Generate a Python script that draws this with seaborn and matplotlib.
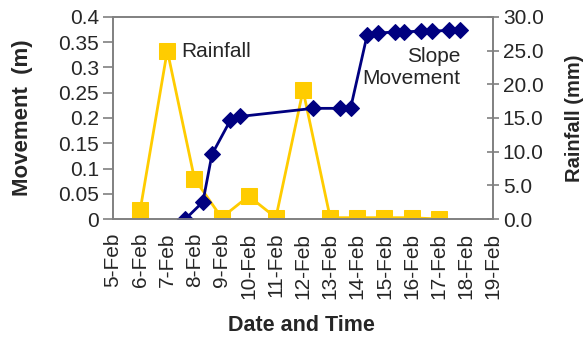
import pandas as pd
import matplotlib
matplotlib.use("Agg")
import matplotlib.pyplot as plt
import seaborn as sns

# --- DATA ---
rain_dates = ["6-Feb", "7-Feb", "8-Feb", "9-Feb", "10-Feb", "11-Feb", "12-Feb",
              "13-Feb", "14-Feb", "15-Feb", "16-Feb", "17-Feb"]
rain_mm = [1.3, 25.0, 6.0, 0.2, 3.4, 0.2, 19.1, 0.2, 0.2, 0.2, 0.2, 0.0]

move_times = ["7-Feb 16:00", "8-Feb 07:30", "8-Feb 15:30", "9-Feb 07:40", "9-Feb 16:30",
              "12-Feb 09:00", "13-Feb 08:30", "13-Feb 18:00", "14-Feb 08:40", "14-Feb 18:00",
              "15-Feb 09:00", "15-Feb 17:00", "16-Feb 08:00", "16-Feb 18:15", "17-Feb 09:00",
              "17-Feb 18:40"]
move_m = [0.0, 0.034, 0.128, 0.195, 0.203, 0.219, 0.219, 0.219, 0.364, 0.368,
          0.370, 0.370, 0.372, 0.372, 0.373, 0.373]

x_ticks = ["5-Feb", "6-Feb", "7-Feb", "8-Feb", "9-Feb", "10-Feb", "11-Feb", "12-Feb",
           "13-Feb", "14-Feb", "15-Feb", "16-Feb", "17-Feb", "18-Feb", "19-Feb"]

YEAR = "2004"
rain = pd.DataFrame({
    "date": pd.to_datetime([d + "-" + YEAR for d in rain_dates], format="%d-%b-%Y"),
    "rain": rain_mm,
})
move = pd.DataFrame({
    "date": pd.to_datetime([t.replace(" ", "-" + YEAR + " ") for t in move_times],
                           format="%d-%b-%Y %H:%M"),
    "move": move_m,
})
tick_dates = pd.to_datetime([d + "-" + YEAR for d in x_ticks], format="%d-%b-%Y")

# --- PLOT ---
sns.set_style("white")
plt.rcParams["font.family"] = ["Liberation Sans", "DejaVu Sans"]

fig = plt.figure(figsize=(5.87, 3.37), dpi=100)
ax = fig.add_axes([0.1925, 0.35, 0.6475, 0.6])
ax2 = ax.twinx()

yellow = "#FFCC00"
navy = "#000080"

sns.lineplot(data=rain, x="date", y="rain", ax=ax2, color=yellow, lw=2,
             marker="s", markersize=11, markeredgecolor=yellow, sort=False,
             estimator=None)
sns.lineplot(data=move, x="date", y="move", ax=ax, color=navy, lw=2,
             marker="D", markersize=8.5, markeredgecolor=navy, sort=False,
             estimator=None)
ax.set_zorder(ax2.get_zorder() + 1)
ax.patch.set_visible(False)

ax.set_ylim(0, 0.4)
ax.set_yticks([0, 0.05, 0.1, 0.15, 0.2, 0.25, 0.3, 0.35, 0.4])
ax.set_yticklabels(["0", "0.05", "0.1", "0.15", "0.2", "0.25", "0.3", "0.35", "0.4"])
ax2.set_ylim(0, 30)
ax2.set_yticks([0, 5, 10, 15, 20, 25, 30])
ax2.set_yticklabels([f"{v:.1f}" for v in [0, 5, 10, 15, 20, 25, 30]])

ax.set_xlim(tick_dates[0], tick_dates[-1])
ax.set_xticks(tick_dates)
ax.set_xticklabels(x_ticks, rotation=90)

ax.set_xlabel("Date and Time", fontsize=15.5, fontweight="bold")
ax.set_ylabel("Movement  (m)", fontsize=16, fontweight="bold")
ax2.set_ylabel("Rainfall (mm)", fontsize=14.5, fontweight="bold")
ax.xaxis.set_label_coords(0.497, -0.475)
ax.yaxis.set_label_coords(-0.21, 0.5)
ax2.yaxis.set_label_coords(1.19, 0.5)

for a in (ax, ax2):
    for s in a.spines.values():
        s.set_color("#808080")
        s.set_linewidth(1.2)
ax.tick_params(axis="both", labelsize=15, length=7, width=1.2, color="#808080",
               direction="out", pad=3)
ax2.tick_params(axis="y", labelsize=15, length=8, width=1.2, color="#808080",
                direction="inout", pad=3)

ax.text(0.179, 0.827, "Rainfall", transform=ax.transAxes, fontsize=15, va="center")
ax.text(0.913, 0.75, "Slope\nMovement", transform=ax.transAxes, fontsize=15,
        ha="right", va="center", multialignment="right", linespacing=1.2)

fig.savefig("out.png", dpi=100)
